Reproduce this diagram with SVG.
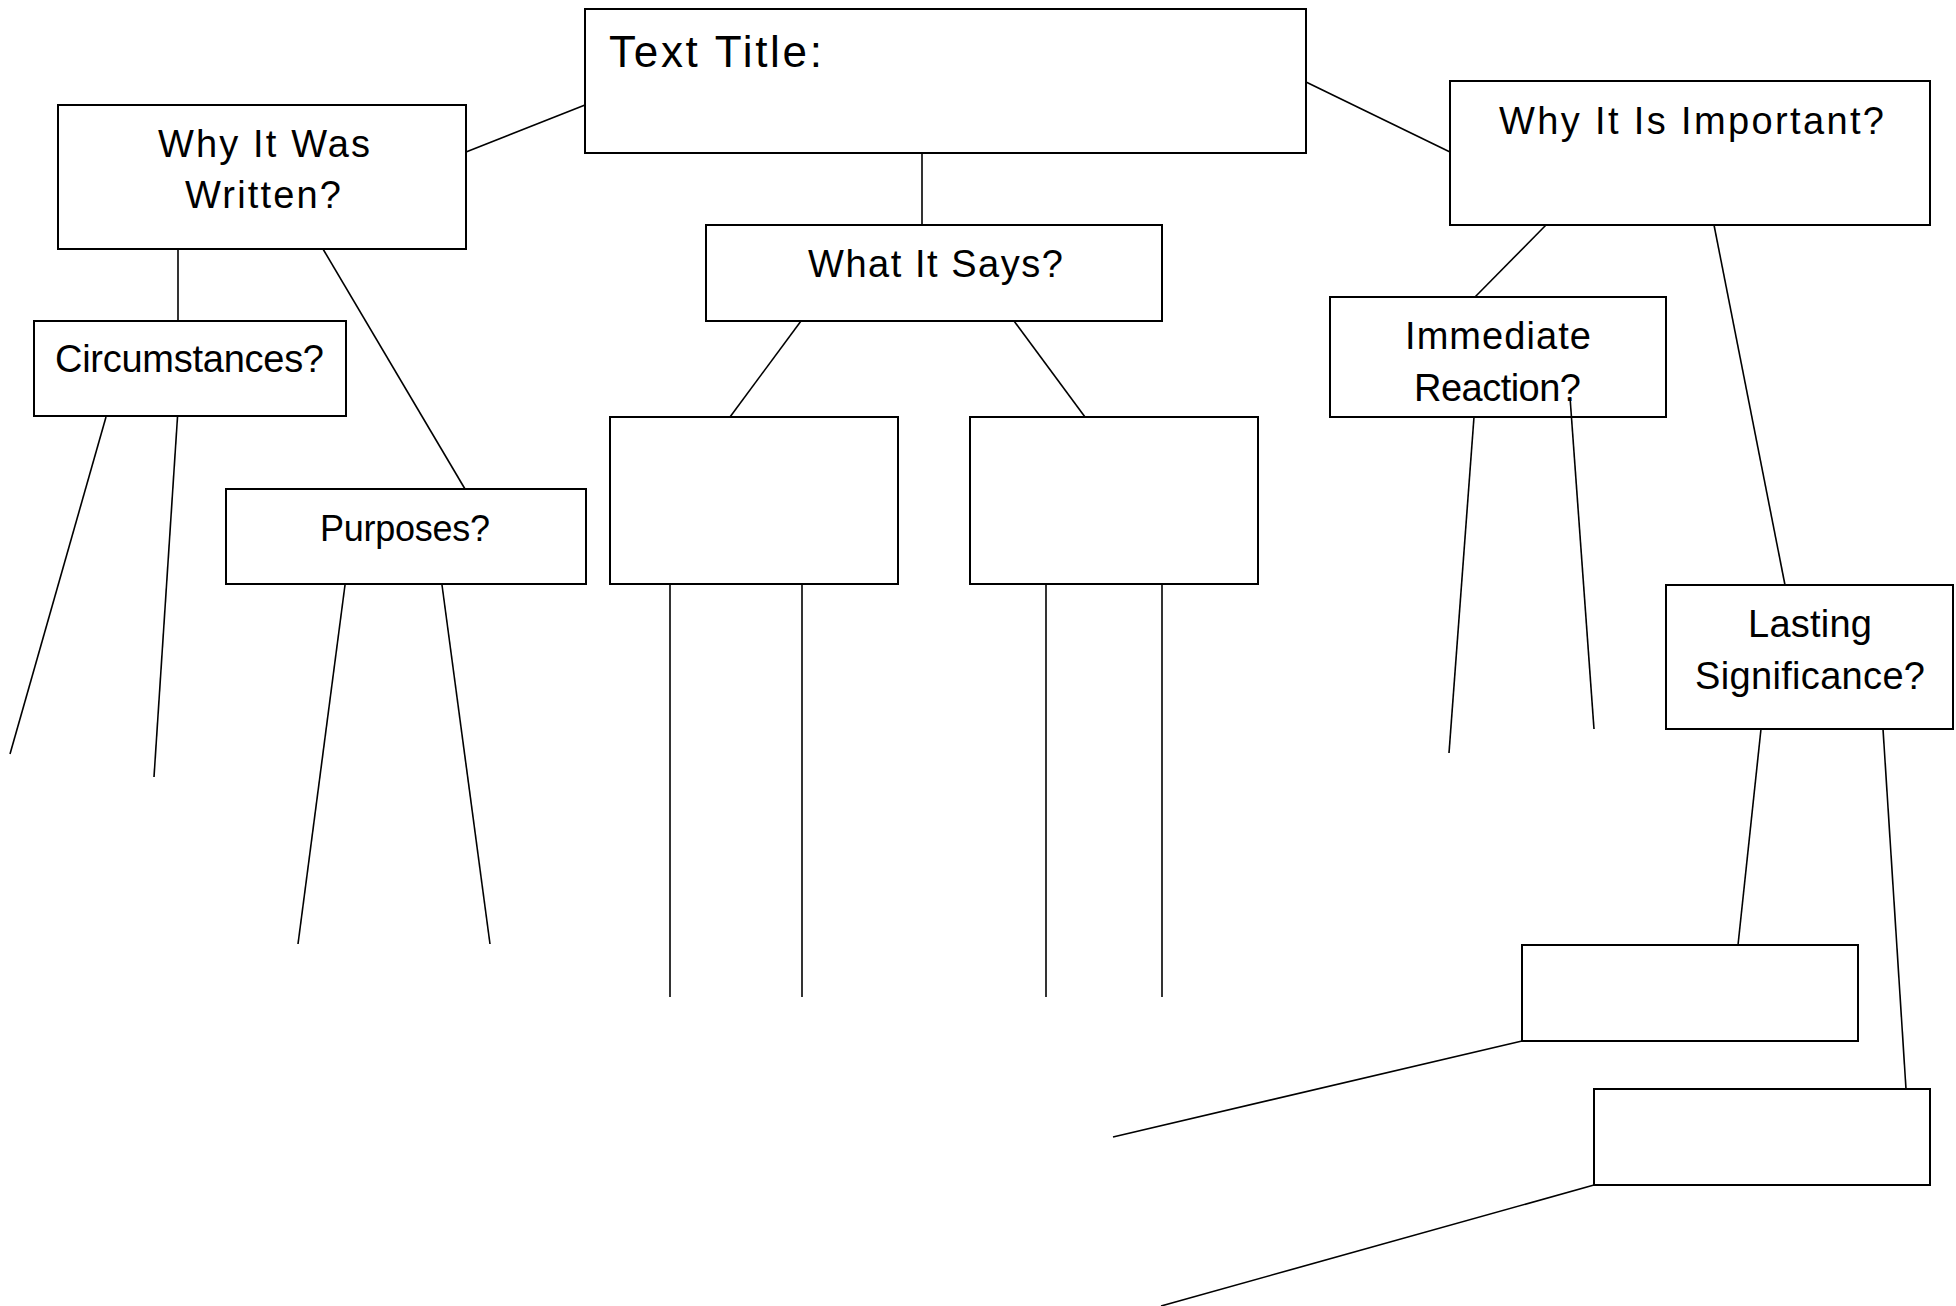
<svg xmlns="http://www.w3.org/2000/svg" width="1956" height="1306" viewBox="0 0 1956 1306">
<style>
.box{fill:#fff;stroke:#000;stroke-width:2}
.ln{stroke:#000;stroke-width:1.6;fill:none}
text{font-family:"Liberation Sans",Arial,sans-serif;font-size:38px;fill:#000}
.big{font-size:44px}
</style>
<rect width="1956" height="1306" fill="#fff"/>
<g id="title"><rect class="box" x="585" y="9" width="721" height="144"/><text class="big" x="609" y="67" textLength="213" lengthAdjust="spacing">Text Title:</text></g>
<g id="why-written"><rect class="box" x="58" y="105" width="408" height="144"/><text x="158" y="157" textLength="212" lengthAdjust="spacing">Why It Was</text><text x="185" y="208" textLength="156" lengthAdjust="spacing">Written?</text></g>
<g id="circumstances"><rect class="box" x="34" y="321" width="312" height="95"/><text x="55" y="372" textLength="269" lengthAdjust="spacing">Circumstances?</text></g>
<g id="purposes"><rect class="box" x="226" y="489" width="360" height="95"/><text x="320" y="541" style="font-size:36px" textLength="170" lengthAdjust="spacing">Purposes?</text></g>
<g id="what-it-says"><rect class="box" x="706" y="225" width="456" height="96"/><text x="808" y="277" textLength="255" lengthAdjust="spacing">What It Says?</text></g>
<g id="says-box1"><rect class="box" x="610" y="417" width="288" height="167"/></g>
<g id="says-box2"><rect class="box" x="970" y="417" width="288" height="167"/></g>
<g id="why-important"><rect class="box" x="1450" y="81" width="480" height="144"/><text x="1499" y="134" textLength="385" lengthAdjust="spacing">Why It Is Important?</text></g>
<g id="immediate"><rect class="box" x="1330" y="297" width="336" height="120"/><text x="1405" y="349" textLength="186" lengthAdjust="spacing">Immediate</text><text x="1414" y="401" textLength="167" lengthAdjust="spacing">Reaction?</text></g>
<g id="lasting"><rect class="box" x="1666" y="585" width="287" height="144"/><text x="1748" y="637" textLength="124" lengthAdjust="spacing">Lasting</text><text x="1695" y="689" textLength="230" lengthAdjust="spacing">Significance?</text></g>
<g id="lasting-box1"><rect class="box" x="1522" y="945" width="336" height="96"/></g>
<g id="lasting-box2"><rect class="box" x="1594" y="1089" width="336" height="96"/></g>
<g id="connectors" class="ln">
<line x1="585" y1="105" x2="466" y2="152"/>
<line x1="922" y1="153" x2="922" y2="225"/>
<line x1="1306" y1="82" x2="1450" y2="152"/>
<line x1="178" y1="249" x2="178" y2="321"/>
<line x1="323" y1="249" x2="465" y2="489"/>
<line x1="106" y1="417" x2="10" y2="754"/>
<line x1="177.5" y1="417" x2="154" y2="777"/>
<line x1="345" y1="585" x2="298" y2="944"/>
<line x1="442" y1="585" x2="490" y2="944"/>
<line x1="801" y1="321" x2="730" y2="417"/>
<line x1="1014" y1="321" x2="1085" y2="417"/>
<line x1="670" y1="584" x2="670" y2="997"/>
<line x1="802" y1="584" x2="802" y2="997"/>
<line x1="1046" y1="584" x2="1046" y2="997"/>
<line x1="1162" y1="584" x2="1162" y2="997"/>
<line x1="1546" y1="225" x2="1475" y2="297"/>
<line x1="1714" y1="225" x2="1785" y2="585"/>
<line x1="1474" y1="417" x2="1449" y2="753"/>
<line x1="1570" y1="397" x2="1594" y2="729"/>
<line x1="1761" y1="729" x2="1738" y2="945"/>
<line x1="1883" y1="729" x2="1906" y2="1089"/>
<line x1="1522" y1="1041" x2="1113" y2="1137"/>
<line x1="1594" y1="1185" x2="1161" y2="1306"/>
</g>
</svg>
